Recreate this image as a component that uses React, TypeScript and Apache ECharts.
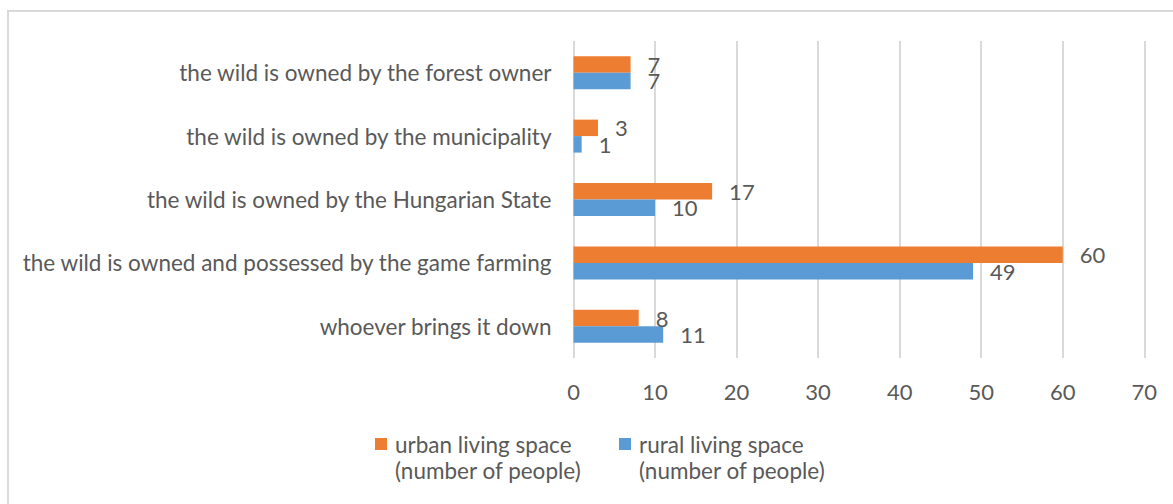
import React, { useEffect, useRef } from "react";
import * as echarts from "echarts";

const categories = [
  "the wild is owned by the forest owner",
  "the wild is owned by the municipality",
  "the wild is owned by the Hungarian State",
  "the wild is owned and possessed by the game farming",
  "whoever brings it down",
];
const urbanName = "urban living space\n(number of people)";
const ruralName = "rural living space\n(number of people)";
const urbanValues = [7, 3, 17, 60, 8];
const ruralValues = [7, 1, 10, 49, 11];
const xTicks = { min: 0, max: 70, interval: 10 };

const FONT = "Lato";
const GRAY = "#595959";
const LEGEND_ICON = "path://M0,0h12v12h-12z M0,38h12";

export default function App() {
  const ref = useRef<HTMLDivElement>(null);
  useEffect(() => {
    if (!ref.current) return;
    const chart = echarts.init(ref.current, null, { renderer: "svg" });
    const labelStyle = {
      show: true,
      position: "right" as const,
      distance: 17,
      color: GRAY,
      fontSize: 22,
      fontFamily: FONT,
    };
    const legendBase = {
      top: 431,
      padding: 0,
      itemWidth: 12,
      itemHeight: 38,
      itemGap: 0,
      icon: LEGEND_ICON,
      textStyle: {
        color: GRAY,
        fontSize: 22.5,
        fontFamily: FONT,
        lineHeight: 26,
        padding: [0, 0, 0, 3],
      },
    };
    chart.setOption({
      animation: false,
      backgroundColor: "#ffffff",
      graphic: [
        {
          type: "rect",
          shape: { x: 8, y: 11, width: 1200, height: 560 },
          style: { fill: "none", stroke: "#d9d9d9", lineWidth: 2 },
          silent: true,
        },
      ],
      grid: { left: 573.5, right: 28.7, top: 41, bottom: 146, containLabel: false },
      xAxis: {
        type: "value",
        min: xTicks.min,
        max: xTicks.max,
        interval: xTicks.interval,
        axisLine: { show: false },
        axisTick: { show: false },
        axisLabel: { color: GRAY, fontSize: 22, fontFamily: FONT, margin: 22 },
        splitLine: { show: true, lineStyle: { color: "#d9d9d9", width: 2 } },
      },
      yAxis: {
        type: "category",
        data: categories,
        inverse: true,
        axisLine: { show: false },
        axisTick: { show: false },
        axisLabel: { color: GRAY, fontSize: 22.5, fontFamily: FONT, margin: 22 },
      },
      legend: [
        { ...legendBase, data: [urbanName], left: 375 },
        { ...legendBase, data: [ruralName], left: 619 },
      ],
      series: [
        {
          name: urbanName,
          type: "bar",
          data: urbanValues,
          itemStyle: { color: "#ED7D31" },
          barGap: "0%",
          barCategoryGap: "48%",
          label: labelStyle,
        },
        {
          name: ruralName,
          type: "bar",
          data: ruralValues,
          itemStyle: { color: "#5B9BD5" },
          barGap: "0%",
          barCategoryGap: "48%",
          label: labelStyle,
        },
      ],
    });
    return () => chart.dispose();
  }, []);
  return (
    <div
      ref={ref}
      style={{ position: "fixed", left: 0, top: 0, width: 1173, height: 504 }}
    />
  );
}
